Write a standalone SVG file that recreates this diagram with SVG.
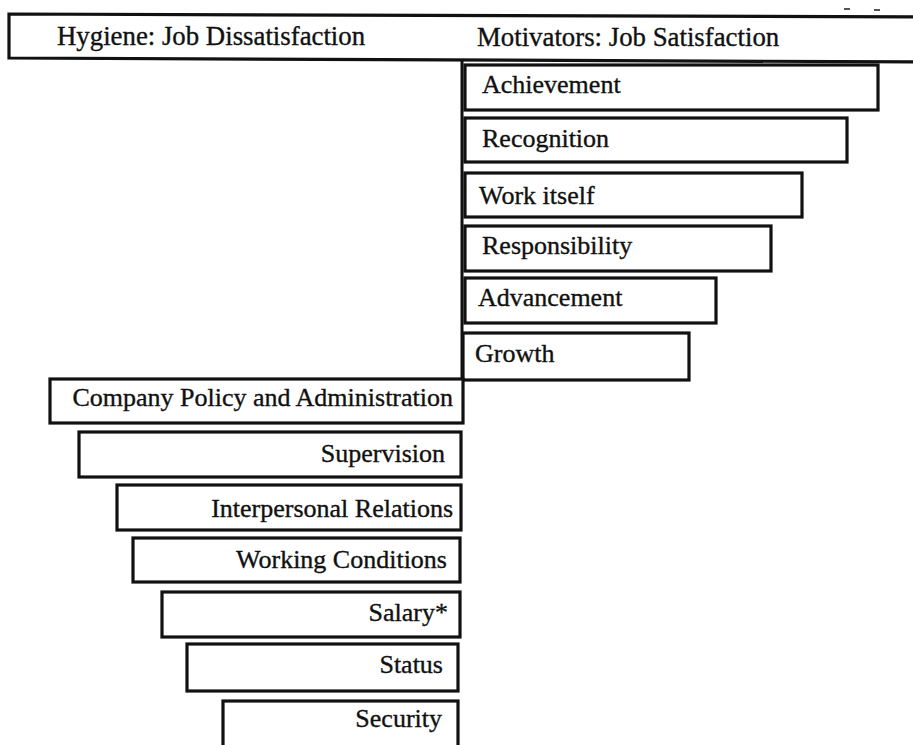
<svg xmlns="http://www.w3.org/2000/svg" width="913" height="745" viewBox="0 0 913 745">
<style>
.box{fill:#fff;stroke:#111;stroke-width:3.2}
.t{font-family:"Liberation Serif","Times New Roman",serif;font-size:26px;fill:#111;stroke:#111;stroke-width:0.35}
.h{font-size:26.8px}
.r{text-anchor:end}
.ax{stroke:#111;stroke-width:3;fill:none}
</style>
<rect width="913" height="745" fill="#fff"/>
<g id="marks" stroke="#555" stroke-width="2">
<line x1="844" y1="9" x2="850" y2="9"/>
<line x1="874" y1="10" x2="880" y2="10"/>
</g>
<g id="header">
<polygon class="box" points="9,14 930,17 930,62 9,58"/>
<text class="t h" x="57" y="45">Hygiene: Job Dissatisfaction</text>
<text class="t h" x="477" y="46">Motivators: Job Satisfaction</text>
</g>
<g id="connectors">
<line class="ax" x1="462" y1="60" x2="462" y2="380"/>
</g>
<g id="achievement"><rect class="box" x="465" y="65" width="413" height="45"/><text class="t" x="482" y="93">Achievement</text></g>
<g id="recognition"><rect class="box" x="465" y="118" width="382" height="44"/><text class="t" x="482" y="147">Recognition</text></g>
<g id="work-itself"><rect class="box" x="465" y="173" width="337" height="44"/><text class="t" x="479" y="204">Work itself</text></g>
<g id="responsibility"><rect class="box" x="465" y="226" width="306" height="45"/><text class="t" x="482" y="254">Responsibility</text></g>
<g id="advancement"><rect class="box" x="465" y="278" width="251" height="45"/><text class="t" x="478" y="306">Advancement</text></g>
<g id="growth"><rect class="box" x="463" y="333" width="226" height="47"/><text class="t" x="475" y="362">Growth</text></g>
<g id="company-policy"><rect class="box" x="50" y="379" width="413" height="44"/><text class="t r" x="453" y="406">Company Policy and Administration</text></g>
<g id="supervision"><rect class="box" x="79" y="432" width="382" height="45"/><text class="t r" x="445" y="462">Supervision</text></g>
<g id="interpersonal"><rect class="box" x="117" y="485" width="344" height="45"/><text class="t r" x="453" y="517">Interpersonal Relations</text></g>
<g id="working-conditions"><rect class="box" x="133" y="538" width="327" height="44"/><text class="t r" x="447" y="568">Working Conditions</text></g>
<g id="salary"><rect class="box" x="162" y="592" width="298" height="45"/><text class="t r" x="448" y="621">Salary*</text></g>
<g id="status"><rect class="box" x="187" y="644" width="271" height="47"/><text class="t r" x="443" y="673">Status</text></g>
<g id="security"><rect class="box" x="223" y="701" width="235" height="60"/><text class="t r" x="442" y="727">Security</text></g>
</svg>
